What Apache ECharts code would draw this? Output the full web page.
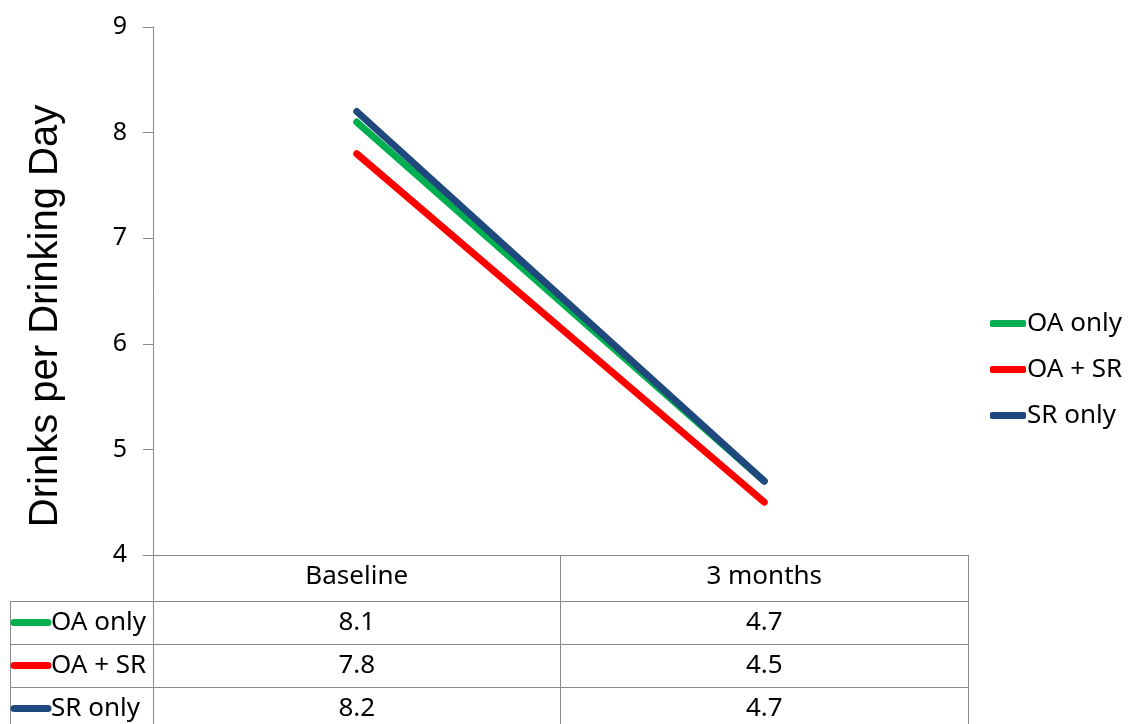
<!DOCTYPE html>
<html>
<head>
<meta charset="utf-8">
<script src="https://cdn.jsdelivr.net/npm/echarts@6/dist/echarts.min.js"></script>
<style>
html,body{margin:0;padding:0;background:#fff;}
#chart{width:1131px;height:724px;}
</style>
</head>
<body>
<div id="chart"></div>
<script>
var categories = ['Baseline', '3 months'];
var seriesNames = ['OA only', 'OA + SR', 'SR only'];
var oaOnly = [8.1, 4.7];
var oaSr = [7.8, 4.5];
var srOnly = [8.2, 4.7];
var yTicks = [4, 5, 6, 7, 8, 9];
var yTitle = 'Drinks per Drinking Day';

var colors = ['#00B050', '#FF0000', '#1F497D'];
var seriesData = [oaOnly, oaSr, srOnly];
var FONT = '"Noto Sans", "Open Sans", sans-serif';
var GRAY = '#8a8a8a';

var chart = echarts.init(document.getElementById('chart'), null, {renderer: 'canvas'});

var option = {
  animation: false,
  backgroundColor: '#fff',
  grid: {left: 153, right: 163, top: 27, bottom: 169, containLabel: false},
  legend: {
    orient: 'vertical',
    left: 990,
    top: 308,
    padding: 0,
    itemGap: 15,
    itemWidth: 36,
    itemHeight: 7,
    icon: 'roundRect',
    data: seriesNames,
    textStyle: {fontFamily: FONT, fontSize: 26, color: '#000', lineHeight: 31, padding: [0, 0, 0, -4]}
  },
  xAxis: {
    type: 'category',
    data: categories,
    boundaryGap: true,
    axisLine: {show: true, lineStyle: {color: GRAY, width: 1}},
    axisTick: {show: true, interval: 0, length: 185, lineStyle: {color: GRAY, width: 1}},
    axisLabel: {fontFamily: FONT, fontSize: 26, color: '#000', margin: 9, interval: 0},
    splitLine: {show: false}
  },
  yAxis: {
    type: 'value',
    min: yTicks[0],
    max: yTicks[yTicks.length - 1],
    interval: 1,
    axisLine: {show: true, lineStyle: {color: GRAY, width: 1}},
    axisTick: {show: true, inside: false, length: 10, lineStyle: {color: GRAY, width: 1}},
    axisLabel: {fontFamily: FONT, fontSize: 25, color: '#000', margin: 26},
    splitLine: {show: false}
  },
  series: seriesNames.map(function (n, i) {
    return {
      name: n,
      type: 'line',
      data: seriesData[i],
      color: colors[i],
      symbol: 'none',
      showSymbol: false,
      lineStyle: {color: colors[i], width: 7, cap: 'round', join: 'round'}
    };
  })
};
chart.setOption(option);

// Data table below the axis
var x0 = chart.convertToPixel({xAxisIndex: 0}, categories[0]);
var x1 = chart.convertToPixel({xAxisIndex: 0}, categories[1]);
var yBase = chart.convertToPixel({yAxisIndex: 0}, yTicks[0]);
var gridRight = x1 + (x1 - x0) / 2;
var headerH = 46, rowH = 43, tableLeft = 10;
var g = [];
g.push({
  type: 'text', x: 46, y: 316, rotation: Math.PI / 2,
  style: {text: yTitle, font: '40px "Liberation Sans", Arial, sans-serif', fill: '#000', align: 'center', verticalAlign: 'middle'}
});
g.push({type: 'line', shape: {x1: tableLeft + 0.5, y1: yBase + headerH, x2: tableLeft + 0.5, y2: 760}, style: {stroke: GRAY, lineWidth: 1}});
for (var r = 0; r < 3; r++) {
  var yTop = Math.round(yBase + headerH + r * rowH) + 0.5;
  var yMid = yBase + headerH + r * rowH + rowH / 2;
  g.push({type: 'line', shape: {x1: tableLeft, y1: yTop, x2: gridRight, y2: yTop}, style: {stroke: GRAY, lineWidth: 1}});
  g.push({type: 'line', shape: {x1: 14, y1: yMid, x2: 48, y2: yMid}, style: {stroke: colors[r], lineWidth: 7, lineCap: 'round'}});
  g.push({type: 'text', x: 51, y: yMid, style: {text: seriesNames[r], font: '26px ' + FONT, fill: '#000', align: 'left', verticalAlign: 'middle'}});
  for (var c = 0; c < categories.length; c++) {
    var cx = chart.convertToPixel({xAxisIndex: 0}, categories[c]);
    g.push({type: 'text', x: cx, y: yMid, style: {text: seriesData[r][c].toFixed(1), font: '26px ' + FONT, fill: '#000', align: 'center', verticalAlign: 'middle'}});
  }
}
chart.setOption({graphic: g});
</script>
</body>
</html>
